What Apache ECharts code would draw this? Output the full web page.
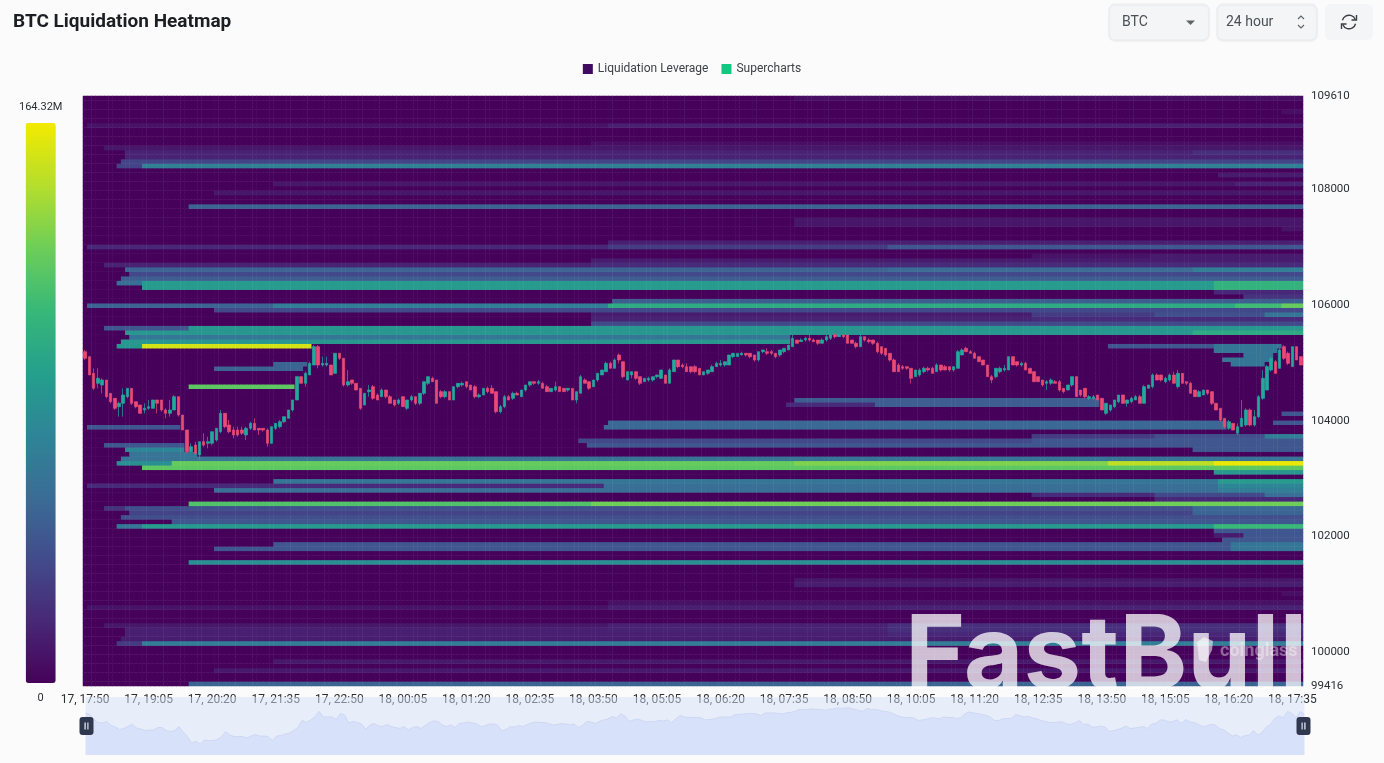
<!DOCTYPE html>
<html>
<head>
<meta charset="utf-8">
<title>BTC Liquidation Heatmap</title>
<script src="https://cdn.jsdelivr.net/npm/echarts@6/dist/echarts.min.js"></script>
<style>
html,body{margin:0;padding:0;background:#fbfbfc;overflow:hidden}
#chart{width:1384px;height:763px}
</style>
</head>
<body>
<div id="chart"></div>
<script>
const yMin = 99416;
const yMax = 109610;
const rowCount = 131;
const colCount = 288;
const maxLiq = 164.32;
const yTicks = [99416, 100000, 102000, 104000, 106000, 108000, 109610];
const colorStops = ['#46025a','#482878','#424c8c','#3a6d96','#2e8596','#24a08c','#38b878','#6ece58','#b5de2b','#f3ea00'];

// candles: open, close, low, high
const candles = [
[105193,105078,105049,105222],[105106,104790,104790,105106],[104818,104559,104530,104905],[104646,104732,104559,104905],
[104617,104703,104473,104732],[104703,104415,104386,104703],[104473,104329,104300,104473],[104386,104214,104185,104386],
[104242,104300,104070,104329],[104300,104444,104070,104559],[104415,104559,104386,104559],[104559,104300,104271,104559],
[104329,104242,104214,104329],[104271,104127,104127,104271],[104185,104214,104127,104300],[104214,104242,104185,104358],
[104214,104358,104214,104358],[104358,104300,104127,104358],[104358,104185,104156,104358],[104185,104127,104041,104214],
[104127,104185,104070,104358],[104185,104415,104185,104444],[104415,104098,104070,104415],[104098,103839,103839,104098],
[103839,103465,103436,103839],[103465,103551,103436,103609],[103580,103436,103407,103638],[103407,103638,103321,103638],
[103638,103580,103551,103782],[103609,103638,103522,103724],[103609,103810,103580,103810],[103666,103868,103638,103868],
[103810,104127,103782,104185],[104127,103897,103868,104127],[103926,103810,103782,104012],[103839,103753,103695,103897],
[103839,103753,103724,103897],[103839,103782,103753,103897],[103753,103868,103666,103897],[103868,103954,103839,103983],
[103954,103839,103839,104041],[103868,103839,103753,103868],[103868,103839,103810,103868],[103839,103609,103551,103868],
[103609,103897,103609,103897],[103868,103954,103839,103954],[103897,103983,103868,104012],[103983,104070,103954,104070],
[104041,104185,104041,104185],[104185,104358,104156,104358],[104358,104761,104358,104761],[104761,104646,104646,104761],
[104646,104818,104588,104847],[104790,104991,104790,105020],[104962,105279,104962,105308],[105279,104962,104905,105308],
[104962,104991,104934,105106],[104962,104991,104934,105106],[104962,104790,104790,104962],[104818,105164,104818,105164],
[105164,105078,105049,105164],[105078,104617,104588,105078],[104617,104674,104588,104876],[104703,104646,104617,104703],
[104646,104530,104530,104646],[104559,104214,104185,104559],[104271,104473,104271,104473],[104502,104530,104415,104617],
[104588,104386,104358,104617],[104444,104358,104358,104473],[104415,104530,104415,104559],[104530,104415,104386,104530],
[104415,104300,104300,104444],[104358,104271,104242,104358],[104300,104358,104271,104386],[104415,104242,104242,104415],
[104214,104358,104185,104358],[104358,104415,104329,104444],[104415,104300,104271,104415],[104300,104473,104271,104473],
[104473,104674,104444,104674],[104646,104761,104617,104761],[104732,104674,104674,104761],[104703,104300,104300,104703],
[104502,104415,104386,104530],[104415,104502,104386,104530],[104502,104358,104358,104502],[104358,104588,104358,104588],
[104588,104646,104559,104646],[104617,104646,104588,104674],[104674,104588,104559,104674],[104617,104530,104530,104617],
[104588,104415,104386,104617],[104415,104444,104386,104473],[104444,104559,104444,104559],[104559,104502,104473,104588],
[104559,104473,104473,104617],[104502,104156,104127,104502],[104156,104242,104127,104271],[104242,104415,104214,104444],
[104415,104358,104358,104444],[104386,104473,104358,104502],[104473,104444,104444,104502],[104415,104530,104415,104530],
[104530,104617,104502,104617],[104617,104674,104588,104674],[104674,104646,104617,104674],[104646,104674,104617,104703],
[104646,104559,104559,104674],[104588,104502,104502,104617],[104502,104559,104502,104559],[104530,104588,104502,104674],
[104588,104502,104502,104588],[104559,104502,104502,104559],[104530,104559,104502,104559],[104559,104358,104358,104559],
[104358,104502,104300,104502],[104473,104761,104473,104790],[104703,104646,104646,104732],[104674,104559,104530,104674],
[104588,104703,104588,104703],[104703,104818,104674,104818],[104790,104876,104790,104876],[104847,104991,104847,105020],
[104991,104905,104905,105020],[104905,105049,104905,105078],[105135,105049,104991,105164],[105020,104761,104732,105020],
[104703,104847,104703,104847],[104790,104847,104732,104847],[104847,104732,104703,104847],[104761,104646,104617,104761],
[104674,104732,104674,104732],[104703,104732,104674,104761],[104703,104761,104674,104761],[104761,104790,104732,104790],
[104732,104876,104732,104876],[104790,104646,104646,104790],[104646,104876,104646,104905],[104847,105049,104847,105049],
[105049,104934,104905,105049],[104962,104934,104905,104991],[104934,104847,104847,104991],[104934,104847,104818,104934],
[104934,104847,104818,104962],[104905,104790,104790,104905],[104790,104847,104790,104847],[104818,104876,104790,104876],
[104847,104934,104847,104962],[104934,104991,104934,105020],[104962,104991,104934,105049],[104962,105020,104934,105020],
[104962,105135,104962,105135],[105106,105164,105078,105164],[105106,105164,105106,105164],[105135,105164,105135,105193],
[105164,105135,105106,105164],[105164,105106,105078,105164],[105135,105049,105020,105135],[105049,105193,105020,105193],
[105193,105222,105164,105222],[105193,105164,105135,105250],[105193,105164,105135,105222],[105164,105106,105078,105164],
[105135,105222,105106,105222],[105193,105250,105164,105250],[105222,105308,105222,105308],[105279,105423,105279,105481],
[105394,105337,105337,105394],[105366,105394,105366,105423],[105394,105423,105366,105452],[105423,105394,105366,105510],
[105394,105366,105366,105423],[105394,105337,105308,105394],[105337,105394,105337,105423],[105394,105452,105366,105481],
[105423,105481,105394,105510],[105481,105452,105423,105510],[105452,105481,105452,105510],[105481,105452,105423,105510],
[105481,105337,105337,105481],[105394,105337,105337,105394],[105337,105279,105250,105366],[105279,105452,105279,105538],
[105452,105394,105366,105452],[105394,105366,105337,105423],[105394,105337,105308,105394],[105337,105193,105164,105366],
[105279,105164,105135,105279],[105250,105135,105106,105250],[105164,105049,105020,105164],[105049,104847,104847,105078],
[104962,104847,104847,104991],[104934,104905,104876,104962],[104934,104905,104876,104934],[104905,104732,104646,104905],
[104761,104876,104761,104876],[104790,104876,104761,104905],[104847,104905,104818,104934],[104905,104876,104847,104934],
[104905,104818,104818,104934],[104847,104962,104847,104991],[104962,104876,104847,104962],[104934,104876,104876,104962],
[104934,104876,104847,104934],[104876,104934,104847,104934],[104905,105193,104905,105222],[105135,105222,105135,105250],
[105250,105193,105193,105279],[105193,105164,105164,105222],[105164,105078,105078,105193],[105106,105020,105020,105106],
[105049,104962,104962,105049],[104962,104761,104761,104962],[104761,104703,104646,104790],[104761,104905,104732,104905],
[104847,104905,104818,104934],[104876,104905,104847,104962],[104876,105106,104876,105106],[105106,104962,104962,105106],
[105020,104962,104934,105020],[104962,104991,104934,105020],[104991,104876,104876,105020],[104905,104818,104818,104905],
[104847,104674,104674,104847],[104761,104674,104674,104761],[104703,104617,104588,104703],[104646,104674,104530,104703],
[104646,104703,104617,104732],[104674,104646,104646,104703],[104674,104530,104502,104703],[104559,104502,104473,104559],
[104530,104617,104530,104617],[104617,104761,104588,104761],[104761,104415,104415,104761],[104530,104444,104415,104530],
[104559,104415,104386,104559],[104386,104415,104358,104444],[104386,104415,104358,104444],[104444,104358,104358,104444],
[104386,104185,104185,104386],[104127,104300,104098,104300],[104185,104271,104156,104271],[104242,104358,104214,104358],
[104329,104444,104300,104444],[104444,104300,104300,104444],[104300,104358,104242,104358],[104329,104386,104300,104415],
[104358,104415,104358,104444],[104415,104300,104300,104444],[104300,104588,104300,104617],[104559,104617,104559,104617],
[104588,104790,104559,104818],[104790,104703,104703,104818],[104790,104703,104674,104790],[104674,104732,104646,104761],
[104703,104790,104674,104818],[104790,104646,104646,104847],[104588,104818,104559,104876],[104818,104646,104646,104818],
[104674,104646,104617,104674],[104646,104473,104473,104674],[104530,104415,104415,104530],[104415,104502,104415,104530],
[104444,104530,104444,104530],[104530,104473,104444,104530],[104502,104300,104271,104502],[104300,104185,104185,104300],
[104214,104012,103983,104214],[104041,103897,103868,104041],[103868,103983,103839,104012],[103954,103839,103839,103954],
[103782,103897,103753,103954],[103897,104041,103897,104358],[103926,104185,103897,104214],[104185,103926,103897,104214],
[103926,104070,103897,104185],[104070,104415,104041,104444],[104386,104732,104358,104876],[104530,104934,104530,104962],
[104876,105078,104847,105106],[105020,104818,104818,105049],[104905,105222,104905,105250],[105279,105078,105049,105308],
[105164,104991,104962,105193],[104934,105279,104934,105279],[105279,105049,105049,105279],[105106,104962,104962,105106]
];

// liquidation bands: price level, [[from candle index, amount in millions], ...], optional end candle index
const bands = [
[109593,[[168,6]]],[109351,[[283,6]]],[109109,[[1,8],[124,14]]],[108798,[[120,6]]],[108712,[[5,10]]],
[108643,[[10,16],[262,22]]],[108556,[[10,16]]],[108487,[[9,32]]],[108401,[[8,32],[14,70]]],[108245,[[268,12]]],
[108090,[[45,10],[272,16]]],[107934,[[31,10]]],[107709,[[25,50]]],[107468,[[168,10]]],[107381,[[168,9]]],
[107295,[[283,8]]],[107087,[[124,14]]],[107001,[[1,18],[124,28],[190,42]]],[106880,[[224,8],[252,12]]],
[106776,[[120,12]]],[106690,[[5,16],[120,20]]],[106612,[[10,50],[190,54],[262,68]]],[106535,[[11,35]]],
[106465,[[9,46]]],[106388,[[8,56],[14,88],[267,105]]],[106310,[[14,88],[267,105]]],[106224,[[267,18]]],
[106154,[[274,24]]],[106059,[[125,46]]],[105990,[[1,50],[45,68],[124,100],[272,112],[283,125]]],[105913,[[31,35]]],
[105835,[[120,12],[224,28],[253,38],[279,62]]],[105757,[[120,16],[224,20]]],[105679,[[120,35]]],
[105601,[[5,42],[25,85]]],[105524,[[10,85],[262,100]]],[105446,[[11,62]],167],[105377,[[9,85]],167],
[105299,[[8,85],[14,155]],54],[105299,[[242,42],[267,62]],283],[105213,[[267,62]],282],[105135,[[274,62]],281],
[105057,[[269,62]],281],[104980,[[45,50]],53],[104980,[[271,62]],279],[104893,[[31,50]],52],[104599,[[25,122]],50],
[104349,[[168,46]],240],[104271,[[166,20],[187,46]],240],[104133,[[283,42]]],[103960,[[281,42]]],
[103934,[[124,52]],270],[103891,[[1,42]],23],[103891,[[123,52]],270],[103718,[[224,28],[253,38],[279,68]]],
[103649,[[117,35],[224,42]]],[103580,[[5,42]],24],[103580,[[119,42]]],[103511,[[10,74]],24],[103511,[[262,42]]],
[103424,[[11,60]],27],[103355,[[9,60]]],[103278,[[8,80],[21,125],[168,132],[242,148],[267,162]]],
[103200,[[14,122]]],[103131,[[267,85]]],[102958,[[45,62],[268,88]]],[102880,[[1,20],[123,56],[268,74]]],
[102802,[[31,56],[268,68]]],[102725,[[224,20],[253,35],[279,56]]],[102647,[[253,18]]],[102561,[[25,118],[120,128]]],
[102483,[[5,24],[10,38],[262,52]]],[102405,[[11,32],[262,50]]],[102336,[[9,38]]],[102258,[[21,42]]],
[102180,[[8,62],[14,88],[267,110]]],[102094,[[267,42]]],[102016,[[267,12],[274,42]]],[101938,[[269,42]]],
[101861,[[45,42],[271,62]]],[101783,[[31,42],[271,62]]],[101558,[[25,80]]],[101247,[[168,10]]],[101178,[[168,13]]],
[101006,[[283,6]]],[100867,[[124,7]]],[100798,[[1,8],[124,14],[190,16]]],[100479,[[5,10],[124,15],[190,22]]],
[100401,[[10,14],[124,16],[190,22]]],[100332,[[10,14],[190,18]]],[100263,[[9,13]]],[100168,[[8,28],[14,68]]],
[99848,[[45,11]]],[99692,[[31,11]]],[99451,[[25,50]]]
];

const pad = n => String(n).padStart(2, '0');
const times = [];
for (let i = 0, m = 17 * 60 + 50, d = 17; i < colCount; i++, m += 5) {
  if (m >= 1440) { m -= 1440; d = 18; }
  times.push(d + ', ' + pad(Math.floor(m / 60)) + ':' + pad(m % 60));
}
const rowStep = (yMax - yMin) / rowCount;
const rows = [];
for (let r = 0; r < rowCount; r++) rows.push(String(Math.round(yMin + r * rowStep)));

const grid = rows.map(() => new Array(colCount).fill(0));
bands.forEach(([price, segs, end]) => {
  const r = Math.min(rowCount - 1, Math.floor((price - yMin) / rowStep));
  const stop = end === undefined ? colCount : end;
  segs.forEach(([from, val], s) => {
    const to = s + 1 < segs.length ? segs[s + 1][0] : stop;
    for (let c = from; c < to; c++) grid[r][c] = val;
  });
});
const cells = [];
grid.forEach((line, r) => line.forEach((v, c) => cells.push([c, r, v])));

const handle = 'path://M3 0H11A3 3 0 0 1 14 3V15A3 3 0 0 1 11 18H3A3 3 0 0 1 0 15V3A3 3 0 0 1 3 0Z M5 5.5V12.5H6.2V5.5Z M7.8 5.5V12.5H9V5.5Z';
const FONT = 'Roboto, "Noto Sans", sans-serif';
const btn = (x, w, stroke) => ({
  type: 'rect', z: 50,
  shape: { x: x, y: 4, width: w, height: 36, r: 6 },
  style: stroke
    ? { fill: '#f3f5f7', stroke: '#e9ecef', lineWidth: 1, shadowBlur: 2, shadowColor: 'rgba(0,0,0,0.06)', shadowOffsetY: 1 }
    : { fill: '#f3f5f7' }
});
const label = (x, y, text, font, fill) => ({
  type: 'text', z: 60, silent: true,
  style: { x: x, y: y, text: text, font: font, fill: fill, verticalAlign: 'middle' }
});
const refreshLine = { stroke: '#3b4046', fill: 'none', lineWidth: 1.4 };

const chart = echarts.init(document.getElementById('chart'), null, { renderer: 'canvas' });
chart.setOption({
  animation: false,
  backgroundColor: '#fbfbfc',
  textStyle: { fontFamily: FONT },
  title: {
    text: 'BTC Liquidation Heatmap', left: 13, top: 13, padding: 0,
    textStyle: { fontFamily: 'Roboto', fontWeight: 700, fontSize: 19, color: '#1b1e22' }
  },
  legend: {
    top: 58, left: 'center', itemWidth: 10, itemHeight: 10, itemGap: 13, selectedMode: false,
    textStyle: { fontSize: 12, color: '#3d4248', fontFamily: FONT },
    data: [
      { name: 'Liquidation Leverage', icon: 'rect', itemStyle: { color: '#3f0a5f', borderColor: '#3f0a5f', borderWidth: 0 } },
      { name: 'Supercharts', icon: 'rect', itemStyle: { color: '#10c880', borderColor: '#10c880', borderWidth: 0 } }
    ]
  },
  grid: { left: 83, right: 81, top: 96, bottom: 77, containLabel: false },
  xAxis: {
    type: 'category', data: times, boundaryGap: true,
    axisLine: { show: false }, axisTick: { show: false }, splitLine: { show: false },
    axisLabel: { interval: 14, margin: 8, fontSize: 12, color: '#2b2f33', fontFamily: FONT }
  },
  yAxis: [
    { type: 'category', data: rows, show: false, boundaryGap: true },
    {
      type: 'value', position: 'right', min: yMin, max: yMax, scale: true,
      axisLine: { show: false }, axisTick: { show: false }, splitLine: { show: false },
      axisLabel: { customValues: yTicks, formatter: v => String(v), margin: 8, fontSize: 11.5, color: '#2b2f33', fontFamily: FONT }
    }
  ],
  visualMap: {
    type: 'continuous', seriesIndex: 0, dimension: 2, min: 0, max: maxLiq,
    calculable: false, hoverLink: false, left: 4, top: 87, itemWidth: 30, itemHeight: 560,
    text: ['164.32M', '0'], textGap: 10,
    textStyle: { fontSize: 11, color: '#2b2f33', fontFamily: FONT },
    inRange: { color: colorStops }
  },
  dataZoom: [{
    type: 'slider', xAxisIndex: 0, start: 0, end: 100, filterMode: 'none',
    left: 83, right: 82, top: 697, height: 58,
    showDetail: false, brushSelect: false, moveHandleSize: 0,
    backgroundColor: 'transparent', borderColor: 'transparent', fillerColor: 'rgba(214,224,248,0.5)',
    handleIcon: handle, handleSize: 18,
    handleStyle: { color: '#30384f', borderColor: '#30384f', borderWidth: 0 },
    emphasis: { handleStyle: { color: '#30384f', borderWidth: 0 } },
    dataBackground: { lineStyle: { color: '#c3cfee', width: 1 }, areaStyle: { color: '#d9e2fa', opacity: 1 } },
    selectedDataBackground: { lineStyle: { color: '#c3cfee', width: 1 }, areaStyle: { color: '#d9e2fa', opacity: 1 } }
  }],
  series: [
    {
      name: 'Liquidation Leverage', type: 'heatmap', xAxisIndex: 0, yAxisIndex: 0,
      data: cells, progressive: 0, silent: true, z: 1,
      itemStyle: { color: '#3f0a5f', borderColor: 'rgba(255,255,255,0.025)', borderWidth: 0.5 },
      emphasis: { disabled: true }
    },
    {
      name: 'Supercharts', type: 'candlestick', xAxisIndex: 0, yAxisIndex: 1,
      data: candles, barWidth: 3, silent: true, z: 5, clip: false, progressive: 0,
      itemStyle: { color: '#22a99b', color0: '#e94b76', borderColor: '#22a99b', borderColor0: '#e94b76', borderWidth: 0.7 }
    }
  ],
  graphic: { elements: [
    btn(1109, 100, true), btn(1217, 100, true), btn(1325, 48, false),
    label(1122, 22, 'BTC', '14px ' + FONT, '#4a5057'),
    label(1226, 22, '24 hour', '14px ' + FONT, '#4a5057'),
    { type: 'polygon', z: 60, silent: true, shape: { points: [[1186, 20.5], [1195, 20.5], [1190.5, 25]] }, style: { fill: '#5f656b' } },
    { type: 'polyline', z: 60, silent: true, shape: { points: [[1298, 19], [1301, 16], [1304, 19]] }, style: { stroke: '#5f656b', fill: 'none', lineWidth: 1.2 } },
    { type: 'polyline', z: 60, silent: true, shape: { points: [[1298, 25], [1301, 28], [1304, 25]] }, style: { stroke: '#5f656b', fill: 'none', lineWidth: 1.2 } },
    { type: 'arc', z: 60, silent: true, shape: { cx: 1349, cy: 22, r: 6.8, startAngle: 3.4, endAngle: 5.9, clockwise: true }, style: refreshLine },
    { type: 'arc', z: 60, silent: true, shape: { cx: 1349, cy: 22, r: 6.8, startAngle: 0.26, endAngle: 2.76, clockwise: true }, style: refreshLine },
    { type: 'polyline', z: 60, silent: true, shape: { points: [[1356.5, 15], [1356.5, 20], [1351.5, 20]] }, style: refreshLine },
    { type: 'polyline', z: 60, silent: true, shape: { points: [[1341.5, 29], [1341.5, 24], [1346.5, 24]] }, style: refreshLine },
    label(905, 658, 'FastBull', '700 103px Inter, sans-serif', 'rgba(255,255,255,0.74)'),
    { type: 'polygon', z: 61, silent: true, shape: { points: [[1197, 642], [1204, 637], [1213, 641], [1212, 650], [1206, 662], [1199, 660]] }, style: { fill: 'rgba(255,255,255,0.55)' } },
    label(1220, 651, 'coinglass', '700 18px ' + FONT, 'rgba(255,255,255,0.38)')
  ] }
});
</script>
</body>
</html>
